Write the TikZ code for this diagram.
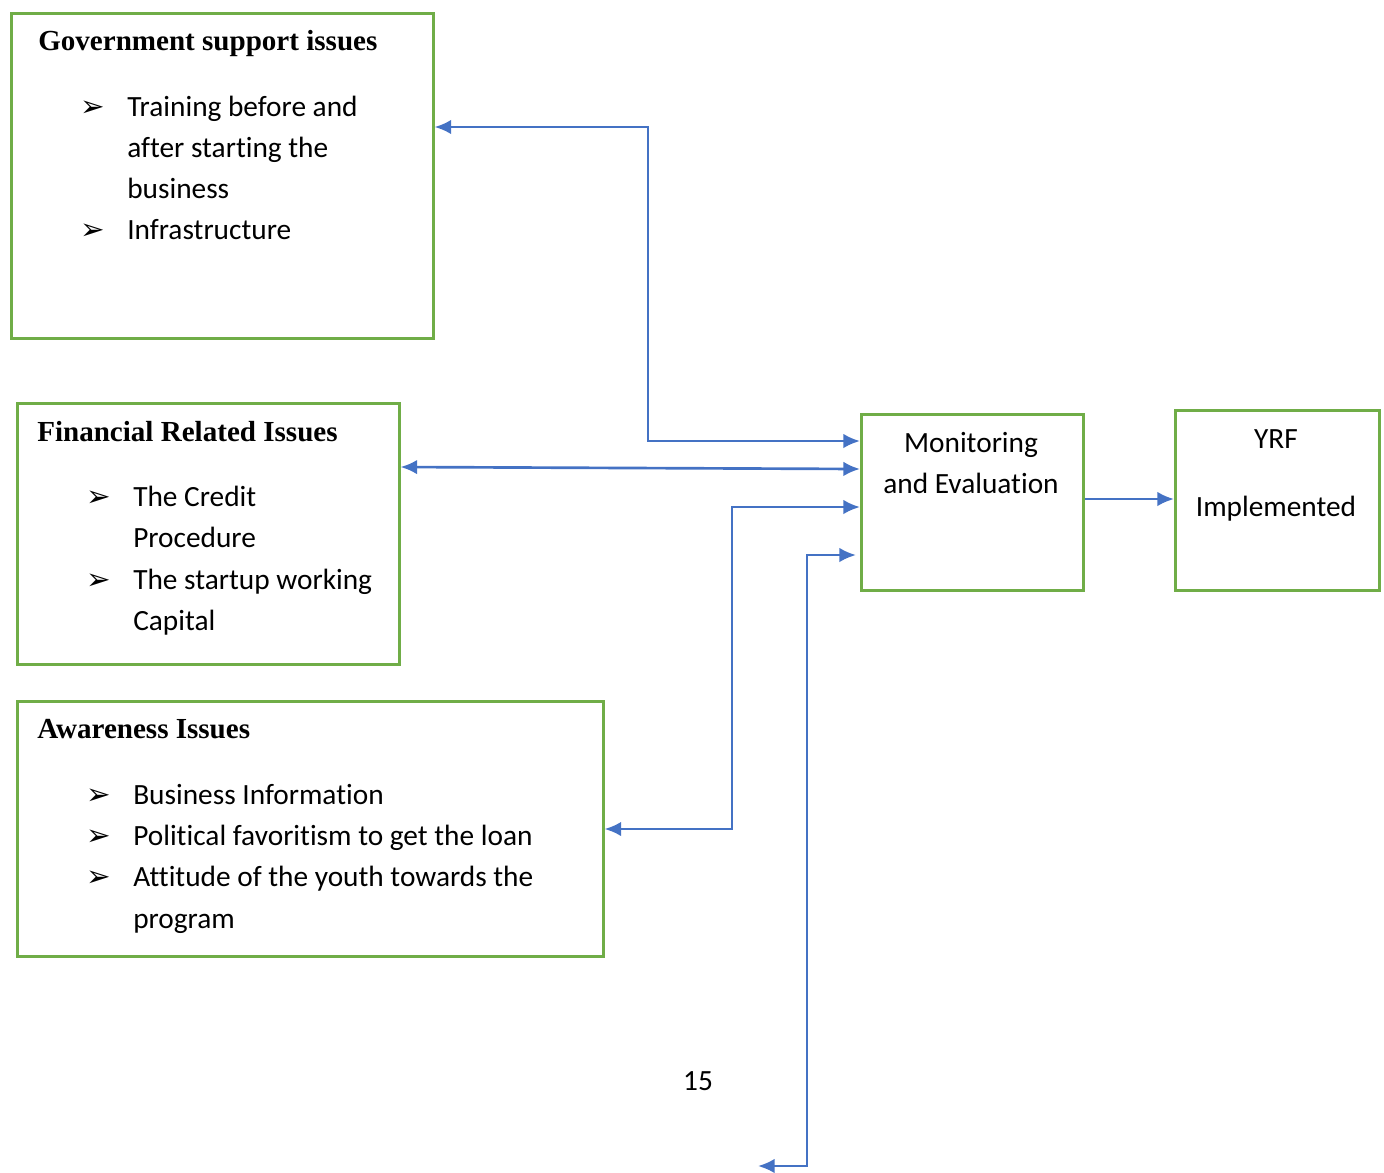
\documentclass[tikz,border=0pt]{standalone}
\usepackage{fontspec}
\setmainfont{Carlito}[Ligatures=NoCommon]
\newfontfamily\titlefont{Liberation Serif}
\newfontfamily\symfont{DejaVu Sans}
\usetikzlibrary{arrows.meta}
\definecolor{boxgreen}{RGB}{112,173,71}
\definecolor{linkblue}{RGB}{68,114,196}
\tikzset{box/.style={draw=boxgreen,line width=1.9pt,anchor=north west,inner sep=0pt},
  txt/.style={anchor=base west,inner sep=0pt,font=\fontsize{22}{26}\selectfont},
  ctxt/.style={anchor=base,inner sep=0pt,font=\fontsize{22}{26}\selectfont},
  bul/.style={anchor=base west,inner sep=0pt,font=\fontsize{22}{26}\symfont},
  head/.style={anchor=base west,inner sep=0pt,font=\fontsize{21.8}{26}\titlefont\bfseries},
  link/.style={draw=linkblue,line width=2pt,{Latex[length=12.5pt,width=11pt]}-{Latex[length=12.5pt,width=11pt]}}}

\begin{document}
\begin{tikzpicture}[x=0.75pt,y=-0.75pt]
\useasboundingbox (0,0) rectangle (1384,1172);

% boxes
\node[box,minimum width=316.5pt,minimum height=243.75pt] (gov) at (10,12) {};
\node[box,minimum width=286.5pt,minimum height=195.75pt] (fin) at (16,402) {};
\node[box,minimum width=439.5pt,minimum height=191.25pt] (aware) at (16,700) {};
\node[box,minimum width=166.5pt,minimum height=132pt] (me) at (860,413) {};
\node[box,minimum width=153pt,minimum height=135pt] (yrf) at (1174,409) {};

% government support
\node[head] (govtitle) at (38,50) {Government support issues};
\node[bul] (gb1) at (80,116) {➢};
\node[txt] (g1) at (127,116) {Training before and};
\node[txt] (g2) at (127,157) {after starting the};
\node[txt] (g3) at (127,198) {business};
\node[bul] (gb2) at (80,239) {➢};
\node[txt] (g4) at (127,239) {Infrastructure};

% financial
\node[head] (fintitle) at (37,441) {Financial Related Issues};
\node[bul] (fb1) at (86,506) {➢};
\node[txt] (f1) at (133,506) {The Credit};
\node[txt] (f2) at (133,547) {Procedure};
\node[bul] (fb2) at (86,589) {➢};
\node[txt] (f3) at (133,589) {The startup working};
\node[txt] (f4) at (133,630) {Capital};

% awareness
\node[head] (awtitle) at (37,738) {Awareness Issues};
\node[bul] (ab1) at (86,804) {➢};
\node[txt] (a1) at (133,804) {Business Information};
\node[bul] (ab2) at (86,845) {➢};
\node[txt] (a2) at (133,845) {Political favoritism to get the loan};
\node[bul] (ab3) at (86,886) {➢};
\node[txt] (a3) at (133,886) {Attitude of the youth towards the};
\node[txt] (a4) at (133,928) {program};

% monitoring and YRF
\node[ctxt] (me1) at (971,452) {Monitoring};
\node[ctxt] (me2) at (971,493) {and Evaluation};
\node[ctxt] (yrf1) at (1276,448) {YRF};
\node[ctxt] (yrf2) at (1276,516) {Implemented};

\node[ctxt] (page) at (698,1090) {15};

% connectors
\coordinate (loose) at (758,1166);
\draw[link] (gov.east |- 0,127) -- (648,127) -- (648,441) -- (me.west |- 0,441);
\draw[link] (fin.east |- 0,467) -- (me.west |- 0,469);
\draw[link] (aware.east |- 0,829) -- (732,829) -- (732,507) -- (me.west |- 0,507);
\draw[link] (loose) -- (807,1166) -- (807,555) -- (856,555);
\draw[draw=linkblue,line width=2pt,-{Latex[length=12.5pt,width=11pt]}] (me.east |- 0,499) -- (yrf.west |- 0,499);

\end{tikzpicture}
\end{document}
